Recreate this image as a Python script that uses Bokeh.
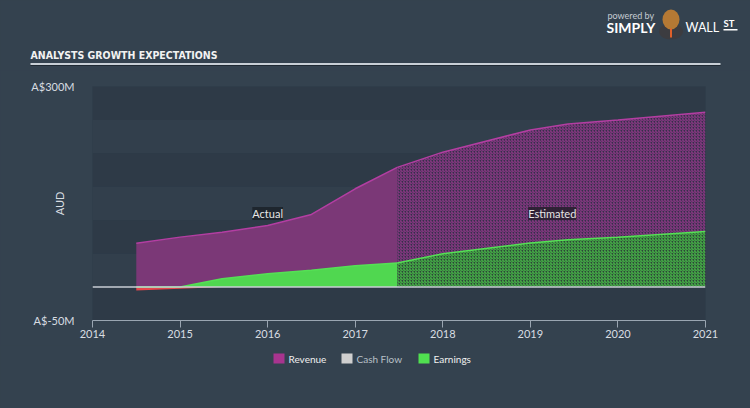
from bokeh.plotting import figure
from bokeh.layouts import column
from bokeh.models import (BoxAnnotation, Label, FixedTicker, PrintfTickFormatter,
                          ColumnDataSource, Span, Range1d)
from bokeh.embed import file_html
from bokeh.resources import INLINE

# ---- data (A$ millions) ----
years_actual = [2014.5, 2015.0, 2015.48, 2016.0, 2016.5, 2017.0, 2017.48]
revenue_actual = [65.7, 74.7, 82.0, 92.0, 108.6, 147.0, 179.0]
earnings_actual = [-5.0, -2.5, 12.4, 20.0, 25.0, 32.0, 36.0]

years_est = [2017.48, 2018.0, 2019.0, 2019.43, 2020.0, 2021.0]
revenue_est = [179.0, 201.8, 235.0, 244.0, 250.0, 261.6]
earnings_est = [36.0, 49.8, 66.0, 70.7, 74.6, 83.0]

x_ticks = [2014, 2015, 2016, 2017, 2018, 2019, 2020, 2021]
y_ticks = [-50, 300]
legend_labels = ["Revenue", "Cash Flow", "Earnings"]
legend_colors = ["#a8348f", "#cfcfcf", "#50e050"]
legend_text_colors = ["#f0f0f0", "#b8c0c8", "#f0f0f0"]

BG = "#34424f"
TXT = "#d8dde2"
FONT = "Lato"
W = 750
HEAD_H, MAIN_H, FOOT_H = 70, 275, 63


def no_align(f):
    try:
        f.frame_align = False
    except Exception:
        pass


def pixel_figure(h):
    """A figure whose frame covers its whole canvas, in pixel coordinates (y downward)."""
    f = figure(width=W, height=h, x_range=Range1d(0, W), y_range=Range1d(h, 0),
               output_backend="svg", toolbar_location=None,
               x_axis_location=None, y_axis_location=None,
               min_border=0, min_border_left=0, min_border_right=0,
               min_border_top=0, min_border_bottom=0)
    f.title.visible = False
    f.grid.visible = False
    f.outline_line_color = None
    f.background_fill_color = BG
    f.border_fill_color = BG
    no_align(f)
    return f


def plabel(f, x, y, text, **kw):
    f.add_layout(Label(x=x, y=y, text=text, **kw))


# ---------------- header ----------------
head = pixel_figure(HEAD_H)
plabel(head, 30, 54, "ANALYSTS GROWTH EXPECTATIONS", text_color="#f2f2f2",
       text_font="DejaVu Sans Condensed", text_font_style="bold",
       text_font_size="10.5px", text_baseline="middle")
head.quad(left=[30], right=[720], top=[62.5], bottom=[64.5], fill_color="#c8cfd6", line_color=None)
head.quad(left=[30], right=[720], top=[64.5], bottom=[65.5], fill_color="#1f2933", line_color=None)
plabel(head, 607, 15, "powered by", text_color="#c5ccd3", text_font=FONT,
       text_font_size="9px", text_baseline="middle")
plabel(head, 606, 27, "SIMPLY", text_color="#ffffff", text_font=FONT, text_font_style="bold",
       text_font_size="14px", text_baseline="middle")
# bull mascot (rough)
head.ellipse(x=[670.5], y=[31], width=[24], height=[16], fill_color="#3c3c40", line_color=None)
head.ellipse(x=[670.5], y=[19], width=[17], height=[20], fill_color="#b57934", line_color=None)
head.quad(left=[669.5], right=[671.5], top=[28], bottom=[37], fill_color="#e0602a", line_color=None)
plabel(head, 685, 27, "WALL", text_color="#ffffff", text_font=FONT,
       text_font_size="12.5px", text_baseline="middle")
plabel(head, 723, 23, "ST", text_color="#ffffff", text_font=FONT, text_font_style="bold",
       text_font_size="9.5px", text_baseline="middle")
head.quad(left=[723], right=[737], top=[28.5], bottom=[30], fill_color="#ffffff", line_color=None)

# ---------------- main chart ----------------
p = figure(width=W, height=MAIN_H, x_range=(2014, 2021), y_range=(-50, 300),
           output_backend="svg", toolbar_location=None,
           min_border_left=92, min_border_right=45, min_border_top=16, min_border_bottom=25)
no_align(p)
p.title.visible = False
p.background_fill_color = "#2f3c49"
p.border_fill_color = BG
p.outline_line_color = None
p.grid.visible = False

for lo, hi, c in [(250, 300, "#2e3a47"), (200, 250, "#323f4c"), (150, 200, "#2e3a47"),
                  (100, 150, "#323f4c"), (50, 100, "#2e3a47"), (0, 50, "#323f4c"), (-50, 0, "#2e3a47")]:
    p.add_layout(BoxAnnotation(bottom=lo, top=hi, fill_color=c, fill_alpha=1, line_color=None, level="underlay"))

p.add_layout(Span(location=0, dimension="width", line_color="#c9ced4", line_width=1.5))

src_a = ColumnDataSource(dict(x=years_actual, rev=revenue_actual,
                              pos=[max(e, 0) for e in earnings_actual],
                              neg=[min(e, 0) for e in earnings_actual],
                              earn=earnings_actual))
src_e = ColumnDataSource(dict(x=years_est, rev=revenue_est, earn=earnings_est))

p.varea(x="x", y1=0, y2="rev", source=src_a, fill_color="#7b3877", fill_alpha=1)
p.varea(x="x", y1=0, y2="rev", source=src_e, fill_color="#35304a", fill_alpha=1,
        hatch_pattern="/", hatch_color="#93388a", hatch_scale=3, hatch_weight=1)
p.line(x="x", y="rev", source=src_a, line_color="#b33ea2", line_width=1.5)
p.line(x="x", y="rev", source=src_e, line_color="#b33ea2", line_width=1.5)

p.varea(x="x", y1=0, y2="pos", source=src_a, fill_color="#50d750", fill_alpha=1)
p.varea(x="x", y1="neg", y2=0, source=src_a, fill_color="#e5484d", fill_alpha=1)
p.varea(x="x", y1=0, y2="earn", source=src_e, fill_color="#2d4538", fill_alpha=1,
        hatch_pattern="/", hatch_color="#48c048", hatch_scale=3, hatch_weight=1)
p.line(x="x", y="pos", source=src_a, line_color="#55e055", line_width=1.5)
p.line(x="x", y="earn", source=src_e, line_color="#55e055", line_width=1.5)

p.xaxis.ticker = FixedTicker(ticks=x_ticks)
p.xaxis.axis_line_color = "#9aa6b2"
p.xaxis.major_tick_line_color = "#9aa6b2"
p.xaxis.major_tick_out = 7
p.xaxis.major_tick_in = 0
p.xaxis.minor_tick_line_color = None
p.xaxis.major_label_text_color = TXT
p.xaxis.major_label_text_font = FONT
p.xaxis.major_label_text_font_size = "11px"
p.xaxis.major_label_standoff = 2

p.yaxis.ticker = FixedTicker(ticks=y_ticks)
p.yaxis.formatter = PrintfTickFormatter(format="A$%dM")
p.yaxis.axis_line_color = None
p.yaxis.major_tick_line_color = None
p.yaxis.minor_tick_line_color = None
p.yaxis.major_label_text_color = TXT
p.yaxis.major_label_text_font = FONT
p.yaxis.major_label_text_font_size = "11px"
p.yaxis.major_label_standoff = 12
p.yaxis.axis_label = "AUD"
p.yaxis.axis_label_text_color = TXT
p.yaxis.axis_label_text_font = FONT
p.yaxis.axis_label_text_font_style = "normal"
p.yaxis.axis_label_text_font_size = "11px"
p.yaxis.axis_label_standoff = -38

p.add_layout(Label(x=2016.0, y=110, text="Actual", text_color="#e6e6e6", text_font=FONT,
                   text_font_size="11px", text_align="center", text_baseline="middle",
                   background_fill_color="#1c232b", background_fill_alpha=0.9))
p.add_layout(Label(x=2019.25, y=110, text="Estimated", text_color="#e6e6e6", text_font=FONT,
                   text_font_size="11px", text_align="center", text_baseline="middle",
                   background_fill_color="#2a1f30", background_fill_alpha=0.9))

# ---------------- footer (legend) ----------------
foot = pixel_figure(FOOT_H)
leg_sq_x = [273, 341, 418]
for lx, lab, col, tcol in zip(leg_sq_x, legend_labels, legend_colors, legend_text_colors):
    foot.quad(left=[lx], right=[lx + 11], top=[8], bottom=[18], fill_color=col, line_color=None)
    plabel(foot, lx + 15, 13.5, lab, text_color=tcol, text_font=FONT, text_font_size="10px",
           text_baseline="middle")

layout = column(head, p, foot, spacing=0)

html = file_html(layout, INLINE)
html = html.replace("<body>", '<body style="margin:0;background:%s">' % BG)
open("out.html", "w").write(html)
